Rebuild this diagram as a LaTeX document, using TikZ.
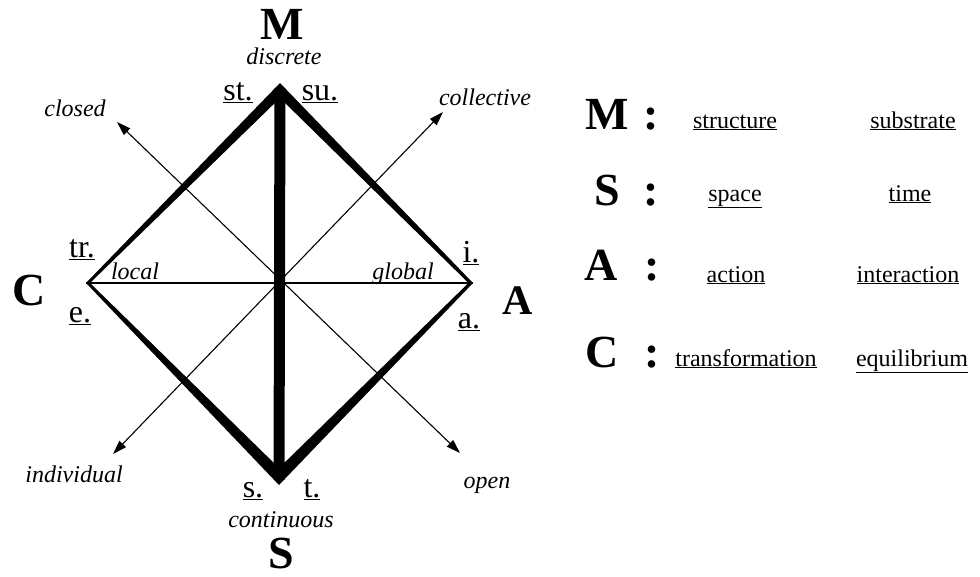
\documentclass[tikz,border=0pt]{standalone}
\usepackage{fontspec}
\setmainfont{Liberation Serif}
\usetikzlibrary{arrows.meta, calc}

\begin{document}
\begin{tikzpicture}[
    x=1pt, y=-1pt,
    pole/.style={
        font=\fontsize{46}{46}\selectfont\bfseries,
        anchor=base,
        inner sep=0pt
    },
    trait/.style={font=\fontsize{24}{24}\selectfont\itshape, anchor=base, inner sep=0pt},
    tag/.style={font=\fontsize{32}{32}\selectfont, anchor=base, inner sep=0pt},
    word/.style={font=\fontsize{24}{24}\selectfont, anchor=base, inner sep=0pt},
    axis/.style={line width=1.1pt, {Triangle[length=14pt,width=9pt]}-{Triangle[length=14pt,width=9pt]}},
    edge/.style={line width=1.1pt}
]
\useasboundingbox (0,0) rectangle (980,576);

% corners of the square
\coordinate (M) at (280,83);
\coordinate (S) at (279,485);
\coordinate (C) at (86,283);
\coordinate (A) at (473,283);
\coordinate (O) at (279.5,283);

% ends of the two axes
\coordinate (closedend) at (117,122);
\coordinate (openend) at (460,453);
\coordinate (indivend) at (113,454);
\coordinate (collend) at (443,112);

\draw[edge] (C) -- (A);
\draw[axis] (closedend) -- (openend);
\draw[axis] (indivend) -- (collend);

% sides get thinner towards C and A
\foreach \p/\q/\dp/\dq in {M/C/15pt/4pt, M/A/15pt/4.5pt, S/C/17pt/4pt, S/A/17pt/4.5pt}
    \fill (\p) -- (\q) -- ($(\q)!\dq!(O)$) -- ($(\p)!\dp!(O)$) -- cycle;
\draw[line width=11pt, shorten <=5.5pt, shorten >=5.5pt] (M) -- (S);

% poles
\node[pole] (Mpole) at (282,39) {M};
\node[pole] (Spole) at (281,568) {S};
\node[pole] (Cpole) at (29,305) {C};
\node[pole, font=\fontsize{42}{42}\selectfont\bfseries] (Apole) at (518,314) {A};

\node[trait] (discrete) at (284,64) {discrete};
\node[trait] (continuous) at (281,527) {continuous};
\node[trait] (closed) at (75,116) {closed};
\node[trait] (collective) at (485,105) {collective};
\node[trait] (individual) at (74,482) {individual};
\node[trait] (open) at (487,488) {open};
\node[trait] (local) at (135,279) {local};
\node[trait] (global) at (403,279) {global};

\node[tag] (st) at (238,100) {\underline{st.}};
\node[tag] (su) at (320,100) {\underline{su.}};
\node[tag] (tr) at (82,257) {\underline{tr.}};
\node[tag] (e) at (80,322) {\underline{e.}};
\node[tag] (i) at (471,262) {\underline{i.}};
\node[tag] (a) at (469,328) {\underline{a.}};
\node[tag] (s) at (253,497) {\underline{s.}};
\node[tag] (t) at (312,497) {\underline{t.}};

% legend
\node[pole] (legM) at (607,129) {M};
\node[pole] (colM) at (651,129) {:};
\node[word] (structure) at (735,128) {\underline{structure}};
\node[word] (substrate) at (913,128) {\underline{substrate}};

\node[pole] (legS) at (607,205) {S};
\node[pole] (colS) at (651,205) {:};
\node[word] (space) at (735,201) {\underline{space}};
\node[word] (time) at (910,201) {\underline{time}};

\node[pole] (legA) at (601,280) {A};
\node[pole] (colA) at (652,280) {:};
\node[word] (action) at (736,282) {\underline{action}};
\node[word] (interaction) at (908,282) {\underline{interaction}};

\node[pole] (legC) at (602,367) {C};
\node[pole] (colC) at (652,367) {:};
\node[word] (transformation) at (746,366) {\underline{transformation}};
\node[word] (equilibrium) at (912,366) {\underline{equilibrium}};

\end{tikzpicture}
\end{document}
